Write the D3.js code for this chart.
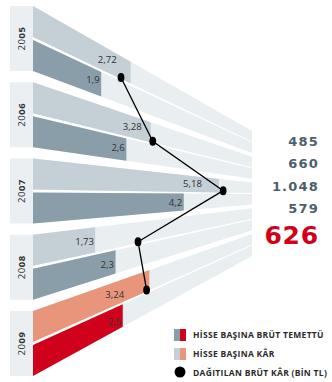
<!DOCTYPE html>
<html>
<head>
<meta charset="utf-8">
<script src="https://cdn.jsdelivr.net/npm/d3@7/dist/d3.min.js"></script>
<style>
  html, body { margin: 0; padding: 0; background: #fff; }
  svg { display: block; }
</style>
</head>
<body>
<div id="chart"></div>
<script>
// Yıllara göre hisse başına kâr, brüt temettü ve dağıtılan brüt kâr
const years = ["2005", "2006", "2007", "2008", "2009"];
const epsValues = [2.72, 3.28, 5.18, 1.73, 3.24];          // Hisse başına kâr
const dividendValues = [1.9, 2.6, 4.2, 2.3, 2.5];           // Hisse başına brüt temettü
const distributedValues = [485, 660, 1048, 579, 626];       // Dağıtılan brüt kâr (bin TL)
const legendLabels = [
  "HİSSE BAŞINA BRÜT TEMETTÜ",
  "HİSSE BAŞINA KÂR",
  "DAĞITILAN BRÜT KÂR (BİN TL)"
];

const W = 332, H = 382;
const X0 = 33, X1 = 252;

const colors = {
  stripe: "#e9eef1",
  yearBox: "#ebeff2",
  epsPast: "#c4cfd6",
  divPast: "#8a9ea9",
  epsLast: "#e8957b",
  divLast: "#d0021b",
  text: "#333333",
  total: "#4c606c"
};

const trLocale = d3.formatLocale({ decimal: ",", thousands: ".", grouping: [3], currency: ["", " TL"] });
const fmtInt = trLocale.format(",d");
const fmtDec = v => trLocale.format("~r")(v);

const svg = d3.select("#chart").append("svg")
  .attr("width", W).attr("height", H);

// Value scales along the bars
const xPerShare = d3.scaleLinear().domain([0, 6.1]).range([X0, X1]);
const xDistributed = d3.scaleLinear().domain([0, 1207]).range([X0, X1]);

// Bands for each year at the left edge, and where each edge lands at the far end
const yBand = d3.scaleBand().domain(years).range([6, 376]).paddingInner(0.1475).paddingOuter(0);
const yFar = d3.scaleLinear().domain([6, 376]).range([131, 256]);
function yAt(yLeft, x) {
  const t = (x - X0) / (X1 - X0);
  return yLeft + (yFar(yLeft) - yLeft) * t;
}
function quad(yTop, yBot, xEnd) {
  return [[X0, yTop], [xEnd, yAt(yTop, xEnd)], [xEnd, yAt(yBot, xEnd)], [X0, yBot]];
}
const line = d3.line();

// Row geometry: upper row = hisse başına kâr, lower row = brüt temettü
const bw = yBand.bandwidth();
const rows = [];
years.forEach((yr, i) => {
  const top = yBand(yr);
  const last = i === years.length - 1;
  rows.push({ i, kind: "eps", top: top, bot: top + bw * 0.477, value: epsValues[i],
              fill: last ? colors.epsLast : colors.epsPast });
  rows.push({ i, kind: "div", top: top + bw * 0.523, bot: top + bw, value: dividendValues[i],
              fill: last ? colors.divLast : colors.divPast });
});

// Background stripes running to the far edge
svg.append("g").selectAll("path").data(rows).join("path")
  .attr("d", d => line(quad(d.top, d.bot, X1)) + "Z")
  .attr("fill", colors.stripe);

// Coloured bars
svg.append("g").selectAll("path").data(rows).join("path")
  .attr("d", d => line(quad(d.top, d.bot, xPerShare(d.value))) + "Z")
  .attr("fill", d => d.fill);

// Year boxes with rotated labels
const yearG = svg.append("g");
yearG.selectAll("rect").data(years).join("rect")
  .attr("x", 10).attr("width", X0 - 10)
  .attr("y", d => yBand(d)).attr("height", bw)
  .attr("fill", colors.yearBox);
yearG.selectAll("text").data(years).join("text")
  .attr("transform", d => `translate(25,${yBand(d) + bw / 2}) rotate(-90)`)
  .attr("text-anchor", "middle")
  .attr("font-family", "'Open Sans', sans-serif")
  .attr("font-size", 9.5)
  .attr("letter-spacing", 0.6)
  .attr("fill", colors.text)
  .each(function (d) {
    const t = d3.select(this);
    t.append("tspan").text(d.slice(0, 2));
    t.append("tspan").attr("font-weight", 700).text(d.slice(2));
  });

// Value labels inside the bars (upper labels kept clear of the line markers)
const epsLabelInset = [14, 9, 17, 1, 25];
svg.append("g").selectAll("text").data(rows).join("text")
  .each(function (d) {
    const xEnd = xPerShare(d.value);
    const xr = xEnd - (d.kind === "eps" ? epsLabelInset[d.i] : 1.5);
    const xc = xr - 10;
    const yc = (yAt(d.top, xc) + yAt(d.bot, xc)) / 2;
    d3.select(this).attr("x", xr).attr("y", yc + 3.4);
  })
  .attr("text-anchor", "end")
  .attr("font-family", "'Open Sans', sans-serif")
  .attr("font-size", 9.6)
  .attr("fill", colors.text)
  .text(d => fmtDec(d.value));

// Distributed profit line with markers on each year's divider
const pts = years.map((yr, i) => {
  const x = xDistributed(distributedValues[i]);
  const mid = yBand(yr) + bw * 0.5;
  return [x, yAt(mid, x) - 2.5];
});
svg.append("path")
  .attr("d", line(pts))
  .attr("fill", "none")
  .attr("stroke", "#000")
  .attr("stroke-width", 1.3);
svg.append("g").selectAll("ellipse").data(pts).join("ellipse")
  .attr("cx", d => d[0]).attr("cy", d => d[1])
  .attr("rx", 3.4).attr("ry", 4.5)
  .attr("fill", "#000");

// Totals column
const totalsG = svg.append("g")
  .attr("font-family", "'DejaVu Sans', sans-serif")
  .attr("font-weight", 700)
  .attr("text-anchor", "end");
distributedValues.forEach((v, i) => {
  const last = i === distributedValues.length - 1;
  totalsG.append("text")
    .attr("x", 319)
    .attr("y", last ? 244 : 146 + i * 22.4)
    .attr("font-size", last ? 25 : 13)
    .attr("letter-spacing", last ? 0.8 : 1.2)
    .attr("fill", last ? colors.divLast : colors.total)
    .text(fmtInt(v));
});

// Legend
const legend = svg.append("g")
  .attr("font-family", "'Open Sans', sans-serif")
  .attr("font-weight", 700)
  .attr("font-size", 8.5)
  .attr("fill", "#2b2b2b");
const swatches = [[colors.divPast, colors.divLast], [colors.epsPast, colors.epsLast]];
swatches.forEach((pair, i) => {
  const y = 329 + i * 19;
  legend.append("rect").attr("x", 174).attr("y", y).attr("width", 6).attr("height", 12).attr("fill", pair[0]);
  legend.append("rect").attr("x", 180).attr("y", y).attr("width", 6).attr("height", 12).attr("fill", pair[1]);
});
legend.append("circle").attr("cx", 180).attr("cy", 372).attr("r", 5.5).attr("fill", "#000");
legendLabels.forEach((t, i) => {
  legend.append("text")
    .attr("x", 193)
    .attr("y", 338 + i * 19)
    .attr("letter-spacing", 0.3)
    .text(t);
});
</script>
</body>
</html>
